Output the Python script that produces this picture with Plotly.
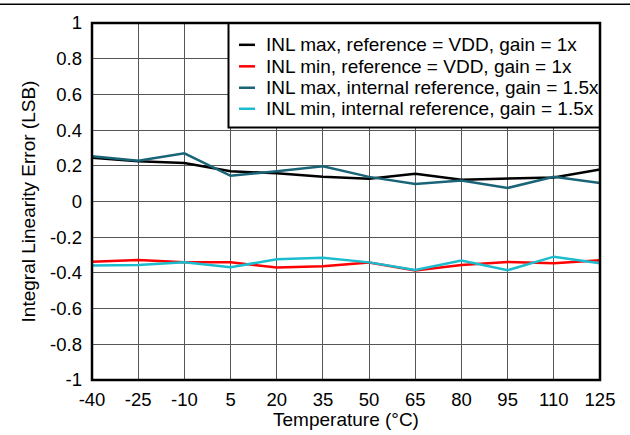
import plotly.graph_objects as go

temps = [-40, -25, -10, 5, 20, 35, 50, 65, 80, 95, 110, 125]
inl_max_vdd = [0.245, 0.226, 0.215, 0.169, 0.158, 0.139, 0.127, 0.156, 0.122, 0.13, 0.135, 0.18]
inl_min_vdd = [-0.337, -0.328, -0.341, -0.341, -0.370, -0.363, -0.342, -0.387, -0.356, -0.339, -0.346, -0.329]
inl_max_int = [0.254, 0.228, 0.27, 0.144, 0.169, 0.197, 0.138, 0.098, 0.117, 0.076, 0.139, 0.104]
inl_min_int = [-0.359, -0.356, -0.341, -0.368, -0.324, -0.315, -0.341, -0.383, -0.331, -0.385, -0.309, -0.346]

names = ["INL max, reference = VDD, gain = 1x",
         "INL min, reference = VDD, gain = 1x",
         "INL max, internal reference, gain = 1.5x",
         "INL min, internal reference, gain = 1.5x"]
colors = ["#000000", "#ff0000", "#1a6478", "#1cbccf"]
series = [inl_max_vdd, inl_min_vdd, inl_max_int, inl_min_int]

y_ticks = [1, 0.8, 0.6, 0.4, 0.2, 0, -0.2, -0.4, -0.6, -0.8, -1]
y_labels = ["1", "0.8", "0.6", "0.4", "0.2", "0", "-0.2", "-0.4", "-0.6", "-0.8", "-1"]

FONT = "Liberation Sans, Arial, sans-serif"
fig = go.Figure()
for name, col, vals in zip(names, colors, series):
    fig.add_trace(go.Scatter(x=temps, y=vals, mode="lines", name=name,
                             line=dict(color=col, width=2.5), showlegend=False))

L, R, T, B = 92, 30, 23, 52
W, H = 630, 435
pw, ph = W - L - R, H - T - B

def px(X):
    return (X - L) / pw

def py(Y):
    return (H - B - Y) / ph

shapes = []
annotations = []
# top rule across the page
shapes.append(dict(type="line", xref="paper", yref="paper", x0=px(0), x1=px(630),
                   y0=py(4), y1=py(4), line=dict(color="black", width=1.5)))
# legend box
shapes.append(dict(type="rect", xref="paper", yref="paper", x0=px(228.5), x1=1,
                   y0=py(128.5), y1=1, line=dict(color="black", width=2),
                   fillcolor="white", layer="above"))
rows = [45, 66.7, 88.3, 109.5]
for name, col, ry in zip(names, colors, rows):
    shapes.append(dict(type="line", xref="paper", yref="paper", x0=px(239), x1=px(255),
                       y0=py(ry), y1=py(ry), line=dict(color=col, width=2.5), layer="above"))
    annotations.append(dict(xref="paper", yref="paper", x=px(264), y=py(ry), text=name,
                            showarrow=False, xanchor="left", yanchor="middle",
                            font=dict(family=FONT, size=19, color="black")))
# plot frame
shapes.append(dict(type="rect", xref="paper", yref="paper", x0=0, x1=1, y0=0, y1=1,
                   line=dict(color="black", width=2.5), layer="above"))

fig.update_layout(
    width=W, height=H,
    margin=dict(l=L, r=R, t=T, b=B),
    paper_bgcolor="white", plot_bgcolor="white",
    font=dict(family=FONT, size=18, color="black"),
    shapes=shapes, annotations=annotations,
    xaxis=dict(range=[-40, 125], tickmode="array", tickvals=temps,
               ticktext=[str(t) for t in temps], showgrid=True, gridcolor="#555555",
               gridwidth=1, zeroline=False, showline=False, ticks="",
               ticklabelstandoff=6,
               tickfont=dict(size=18.5), title=dict(text="Temperature (°C)", standoff=0,
               font=dict(size=19))),
    yaxis=dict(range=[-1, 1], tickmode="array", tickvals=y_ticks, ticktext=y_labels,
               showgrid=True, gridcolor="#555555", gridwidth=1, zeroline=False,
               showline=False, ticks="", tickfont=dict(size=18.5), ticklabelstandoff=9,
               title=dict(text="Integral Linearity Error (LSB)", standoff=9,
               font=dict(size=19))),
)

fig.write_html("out.html", post_script="document.body.style.margin='0';",
               config={"displayModeBar": False})
